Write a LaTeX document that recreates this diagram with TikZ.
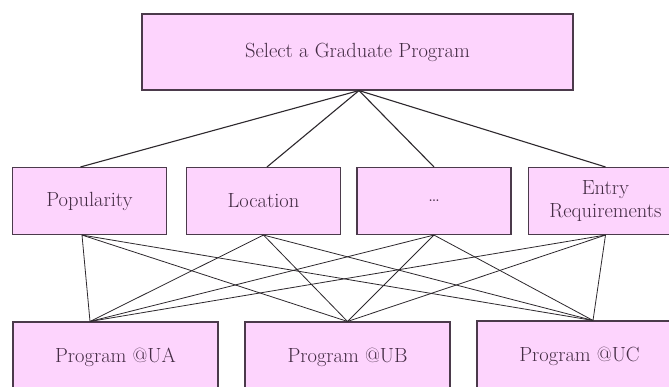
\documentclass[tikz,border=0pt]{standalone}
\usepackage{tikz}

\definecolor{boxfill}{RGB}{253,212,253}
\definecolor{boxline}{RGB}{75,58,75}
\definecolor{boxtext}{RGB}{68,44,68}
\definecolor{wire}{RGB}{45,40,45}

\begin{document}
\begin{tikzpicture}[x=1pt, y=-1pt,
  box/.style={rectangle, draw=boxline, fill=boxfill, line width=1.1pt, inner sep=0pt,
    text=boxtext, align=center, font=\fontsize{20.5}{23}\selectfont},
  goal node/.style={box, minimum width=431pt, minimum height=76pt},
  crit node/.style={box, minimum width=154pt, minimum height=67pt},
  alt node/.style={box, minimum width=205pt, minimum height=70pt},
  top wire/.style={draw=wire, line width=1.1pt},
  low wire/.style={draw=wire, line width=0.8pt}]
  \clip (0,0) rectangle (669,386);
  \fill[white] (0,0) rectangle (669,386);

  % goal
  \node[goal node] (goal) at (357.5,52) {Select a Graduate Program};

  % criteria
  \node[crit node] (pop) at (89.5,201) {Popularity};
  \node[crit node] (loc) at (263.5,201) {Location};
  \node[crit node] (dots) at (434,201) {\ldots};
  \node[crit node] (entry) at (605.5,201) {Entry\\Requirements};

  % alternatives
  \node[alt node] (ua) at (115.5,357) {Program @UA};
  \node[alt node] (ub) at (347.5,357) {Program @UB};
  \node[alt node] (uc) at (579.5,356) {Program @UC};

  % where the wires meet the boxes
  \coordinate (pop-t) at ([xshift=-9pt]pop.north);
  \coordinate (loc-t) at ([xshift=3.5pt]loc.north);
  \coordinate (pop-b) at ([xshift=-7.5pt]pop.south);
  \coordinate (ua-t) at ([xshift=-25.5pt]ua.north);
  \coordinate (uc-t) at ([xshift=13.5pt]uc.north);

  \foreach \c in {pop-t, loc-t, dots.north, entry.north}
    \draw[top wire] ([xshift=1.5pt]goal.south) -- (\c);

  \foreach \c in {pop-b, loc.south, dots.south, entry.south}
    \foreach \a in {ua-t, ub.north, uc-t}
      \draw[low wire] (\c) -- (\a);
\end{tikzpicture}
\end{document}
